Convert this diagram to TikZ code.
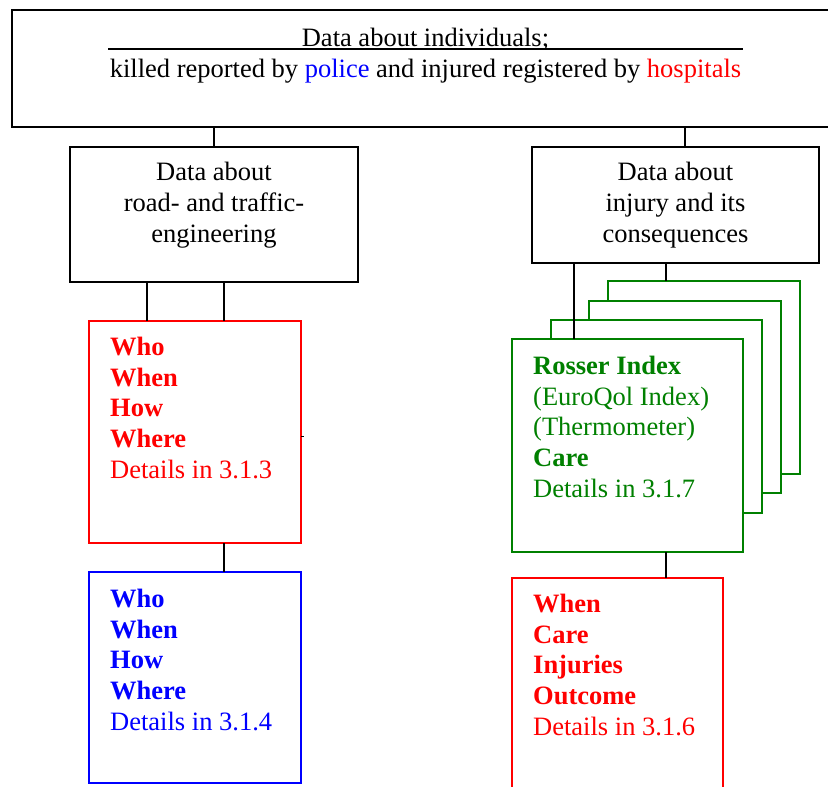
\documentclass[tikz,border=0pt]{standalone}
\usepackage{fontspec}
\setmainfont{Liberation Serif}
\definecolor{dgreen}{RGB}{0,128,0}
\definecolor{pred}{RGB}{255,0,0}
\definecolor{pblue}{RGB}{0,0,255}
\begin{document}
\begin{tikzpicture}[x=1pt,y=-1pt,
  box/.style={draw, line width=1.8pt, inner sep=0pt, outer sep=0pt, anchor=north west},
  cbox/.style={draw, line width=2.3pt, fill=white, inner sep=0pt, outer sep=0pt, anchor=north west},
  txt/.style={font=\fontsize{26.5}{30.6}\selectfont, inner sep=0pt, align=left, anchor=base west},
  ctxt/.style={font=\fontsize{26.5}{30.6}\selectfont, inner sep=0pt, align=center, anchor=base},
  conn/.style={line width=1.6pt}]
\useasboundingbox (0,0) rectangle (828,787);
% top box
\node[box, line width=2.6pt, minimum width=828pt, minimum height=117pt] (top) at (12,10) {};
\node[ctxt] (toptxt) at (425.5,77) {Data about individuals;\\[0.4pt]killed reported by \textcolor{pblue}{police} and injured registered by \textcolor{pred}{hospitals}};
\coordinate (ulA) at (108,49);
\coordinate (ulB) at (743,49);
\draw[line width=1.6pt] (ulA) -- (ulB);
% second row
\node[box, minimum width=288pt, minimum height=135pt] (road) at (70,147) {};
\node[ctxt] (roadtxt) at (214,242) {Data about\\road- and traffic-\\engineering};
\node[box, minimum width=287pt, minimum height=116pt] (inj) at (532,147) {};
\node[ctxt] (injtxt) at (675.5,242) {Data about\\injury and its\\consequences};
% left column
\node[cbox, draw=pred, minimum width=212pt, minimum height=222pt] (red1) at (89,321) {};
\node[txt, text=pred] (red1txt) at (110,478) {\textbf{Who}\\\textbf{When}\\\textbf{How}\\\textbf{Where}\\Details in 3.1.3};
\node[cbox, draw=pblue, minimum width=212pt, minimum height=211pt] (blue1) at (89,572) {};
\node[txt, text=pblue] (blue1txt) at (110,730) {\textbf{Who}\\\textbf{When}\\\textbf{How}\\\textbf{Where}\\Details in 3.1.4};
% green stack
\node[cbox, draw=dgreen, minimum width=192pt, minimum height=193pt] (g4) at (608,281) {};
\node[cbox, draw=dgreen, minimum width=192pt, minimum height=192pt] (g3) at (589,301) {};
\node[cbox, draw=dgreen, minimum width=211pt, minimum height=193pt] (g2) at (551,320) {};
\node[cbox, draw=dgreen, minimum width=231pt, minimum height=213pt] (g1) at (512,339) {};
\node[txt, text=dgreen] (g1txt) at (533,497) {\textbf{Rosser Index}\\(EuroQol Index)\\(Thermometer)\\\textbf{Care}\\Details in 3.1.7};
\node[cbox, draw=pred, minimum width=211pt, minimum height=240pt] (red2) at (512,578) {};
\node[txt, text=pred] (red2txt) at (533,735) {\textbf{When}\\\textbf{Care}\\\textbf{Injuries}\\\textbf{Outcome}\\Details in 3.1.6};
% connector x positions
\coordinate (xa) at (214,0);
\coordinate (xb) at (685,0);
\coordinate (xc) at (147,0);
\coordinate (xd) at (224,0);
\coordinate (xe) at (574,0);
\coordinate (xf) at (666,0);
\coordinate (ystub) at (0,436);
\draw[conn] (top.south -| xa) -- (road.north -| xa);
\draw[conn] (top.south -| xb) -- (inj.north -| xb);
\draw[conn] (road.south -| xc) -- (red1.north -| xc);
\draw[conn] (road.south -| xd) -- (red1.north -| xd);
\draw[conn] (red1.south -| xd) -- (blue1.north -| xd);
\draw[conn] (inj.south -| xe) -- (g1.north -| xe);
\draw[conn] (inj.south -| xf) -- (g4.north -| xf);
\draw[conn] (g1.south -| xf) -- (red2.north -| xf);
\draw[line width=1pt] (red1.east |- ystub) -- ++(3,0);
\end{tikzpicture}
\end{document}
